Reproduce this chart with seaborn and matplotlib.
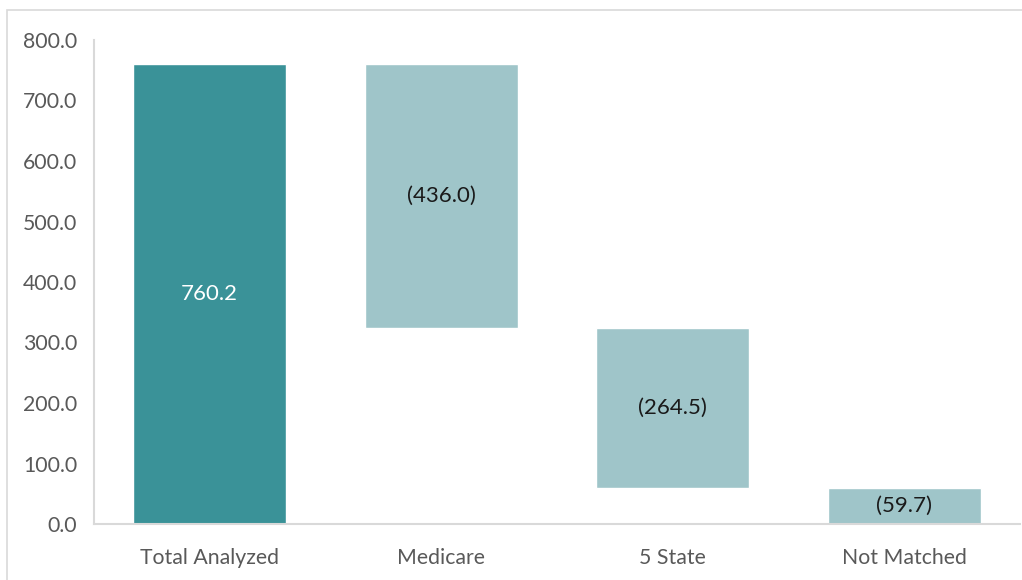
import matplotlib
matplotlib.use("Agg")
import matplotlib.pyplot as plt
from matplotlib.patches import Rectangle
import seaborn as sns

categories = ["Total Analyzed", "Medicare", "5 State", "Not Matched"]
changes = [760.2, -436.0, -264.5, -59.7]
labels = ["760.2", "(436.0)", "(264.5)", "(59.7)"]

# waterfall: running total gives the floor of each bar
heights = [abs(v) for v in changes]
bottoms = []
run = 0.0
for i, v in enumerate(changes):
    if i == 0:
        bottoms.append(0.0)
        run = v
    else:
        run = run + v
        bottoms.append(run)

dark = "#3A9298"
light = "#9FC5C9"

sns.set_style("white")
plt.rcParams["font.family"] = ["Lato", "DejaVu Sans"]

fig = plt.figure(figsize=(10.22, 5.8), dpi=100)
ax = fig.add_axes([94 / 1022, 56 / 580, 926 / 1022, 484 / 580])

sns.barplot(x=categories, y=heights, bottom=bottoms, color=light,
            width=0.66, saturation=1, ax=ax)
ax.patches[0].set_facecolor(dark)

for i, bar in enumerate(ax.patches):
    cy = bar.get_y() + bar.get_height() / 2
    ax.text(bar.get_x() + bar.get_width() / 2, cy, labels[i],
            ha="center", va="center", fontsize=16,
            color="white" if i == 0 else "#1a1a1a")

ax.set_ylim(0, 800)
ax.set_yticks(range(0, 801, 100))
ax.set_yticklabels([f"{v:.1f}" for v in range(0, 801, 100)])
ax.tick_params(axis="both", length=0, labelsize=15.3, labelcolor="#595959")
ax.tick_params(axis="y", pad=12)
ax.tick_params(axis="x", pad=17)
ax.set_xlabel("")
ax.set_ylabel("")
sns.despine(ax=ax, top=True, right=True)
for s in ["left", "bottom"]:
    ax.spines[s].set_color("#D9D9D9")
    ax.spines[s].set_linewidth(1.5)

# outer chart frame (left and top edges visible)
fig.add_artist(Rectangle((7 / 1022, -0.2), 1.2, (570 + 0.2 * 580) / 580,
                         transform=fig.transFigure, fill=False,
                         edgecolor="#D9D9D9", linewidth=1.2, clip_on=False))

fig.savefig("out.png", dpi=100)
